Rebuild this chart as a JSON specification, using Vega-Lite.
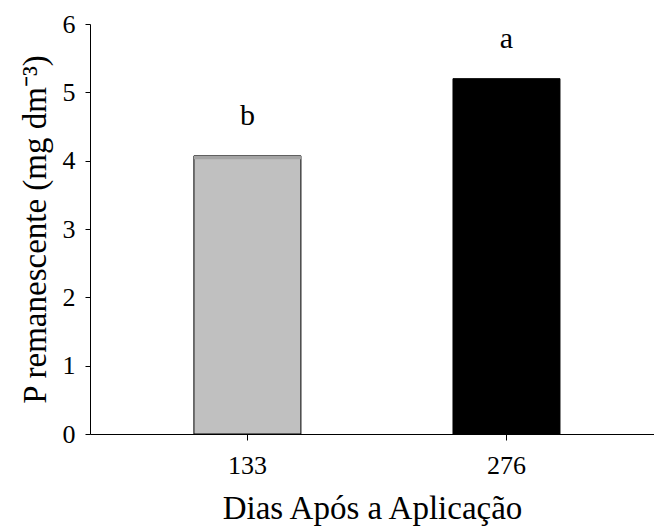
{
  "$schema": "https://vega.github.io/schema/vega-lite/v6.json",
  "width": 564,
  "height": 410,
  "autosize": {"type": "none"},
  "padding": {"left": 90, "top": 24, "right": 0, "bottom": 96},
  "background": "white",
  "config": {
    "view": {"stroke": null},
    "font": "Liberation Serif",
    "axis": {"grid": false, "domainColor": "black", "tickColor": "black", "labelColor": "black", "titleColor": "black", "labelFont": "Liberation Serif", "titleFont": "Liberation Serif", "titleFontWeight": "normal"}
  },
  "data": {
    "values": [
      {"dias": "133", "p": 4.07, "lo": 4.02, "letra": "b", "cor": "#c0c0c0"},
      {"dias": "276", "p": 5.2, "lo": 5.2, "letra": "a", "cor": "#000000"}
    ]
  },
  "encoding": {
    "x": {
      "field": "dias",
      "type": "ordinal",
      "sort": null,
      "scale": {"paddingInner": 0.587, "paddingOuter": 0.382, "align": 0.525},
      "axis": {"title": "Dias Após a Aplicação", "labelAngle": 0, "labelFontSize": 26, "titleFontSize": 33, "tickSize": 6, "labelPadding": 12, "titlePadding": 14}
    }
  },
  "layer": [
    {
      "mark": {"type": "bar", "stroke": "black", "strokeWidth": 1},
      "encoding": {
        "y": {
          "field": "p",
          "type": "quantitative",
          "scale": {"domain": [0, 6]},
          "axis": {"title": "P remanescente (mg dm⁻³)", "values": [0, 1, 2, 3, 4, 5, 6], "format": "d", "labelFontSize": 26, "titleFontSize": 33, "tickSize": 5, "labelPadding": 10, "titlePadding": 10}
        },
        "fill": {"field": "cor", "type": "nominal", "scale": null}
      }
    },
    {
      "transform": [{"filter": "datum.lo < datum.p"}],
      "mark": {"type": "bar", "fill": "#a4a4a4", "strokeWidth": 0},
      "encoding": {
        "y": {"field": "lo", "type": "quantitative"},
        "y2": {"field": "p"}
      }
    },
    {
      "mark": {"type": "text", "baseline": "alphabetic", "dy": -31, "fontSize": 30, "font": "Liberation Serif", "color": "black"},
      "encoding": {
        "y": {"field": "p", "type": "quantitative"},
        "text": {"field": "letra"}
      }
    }
  ]
}
